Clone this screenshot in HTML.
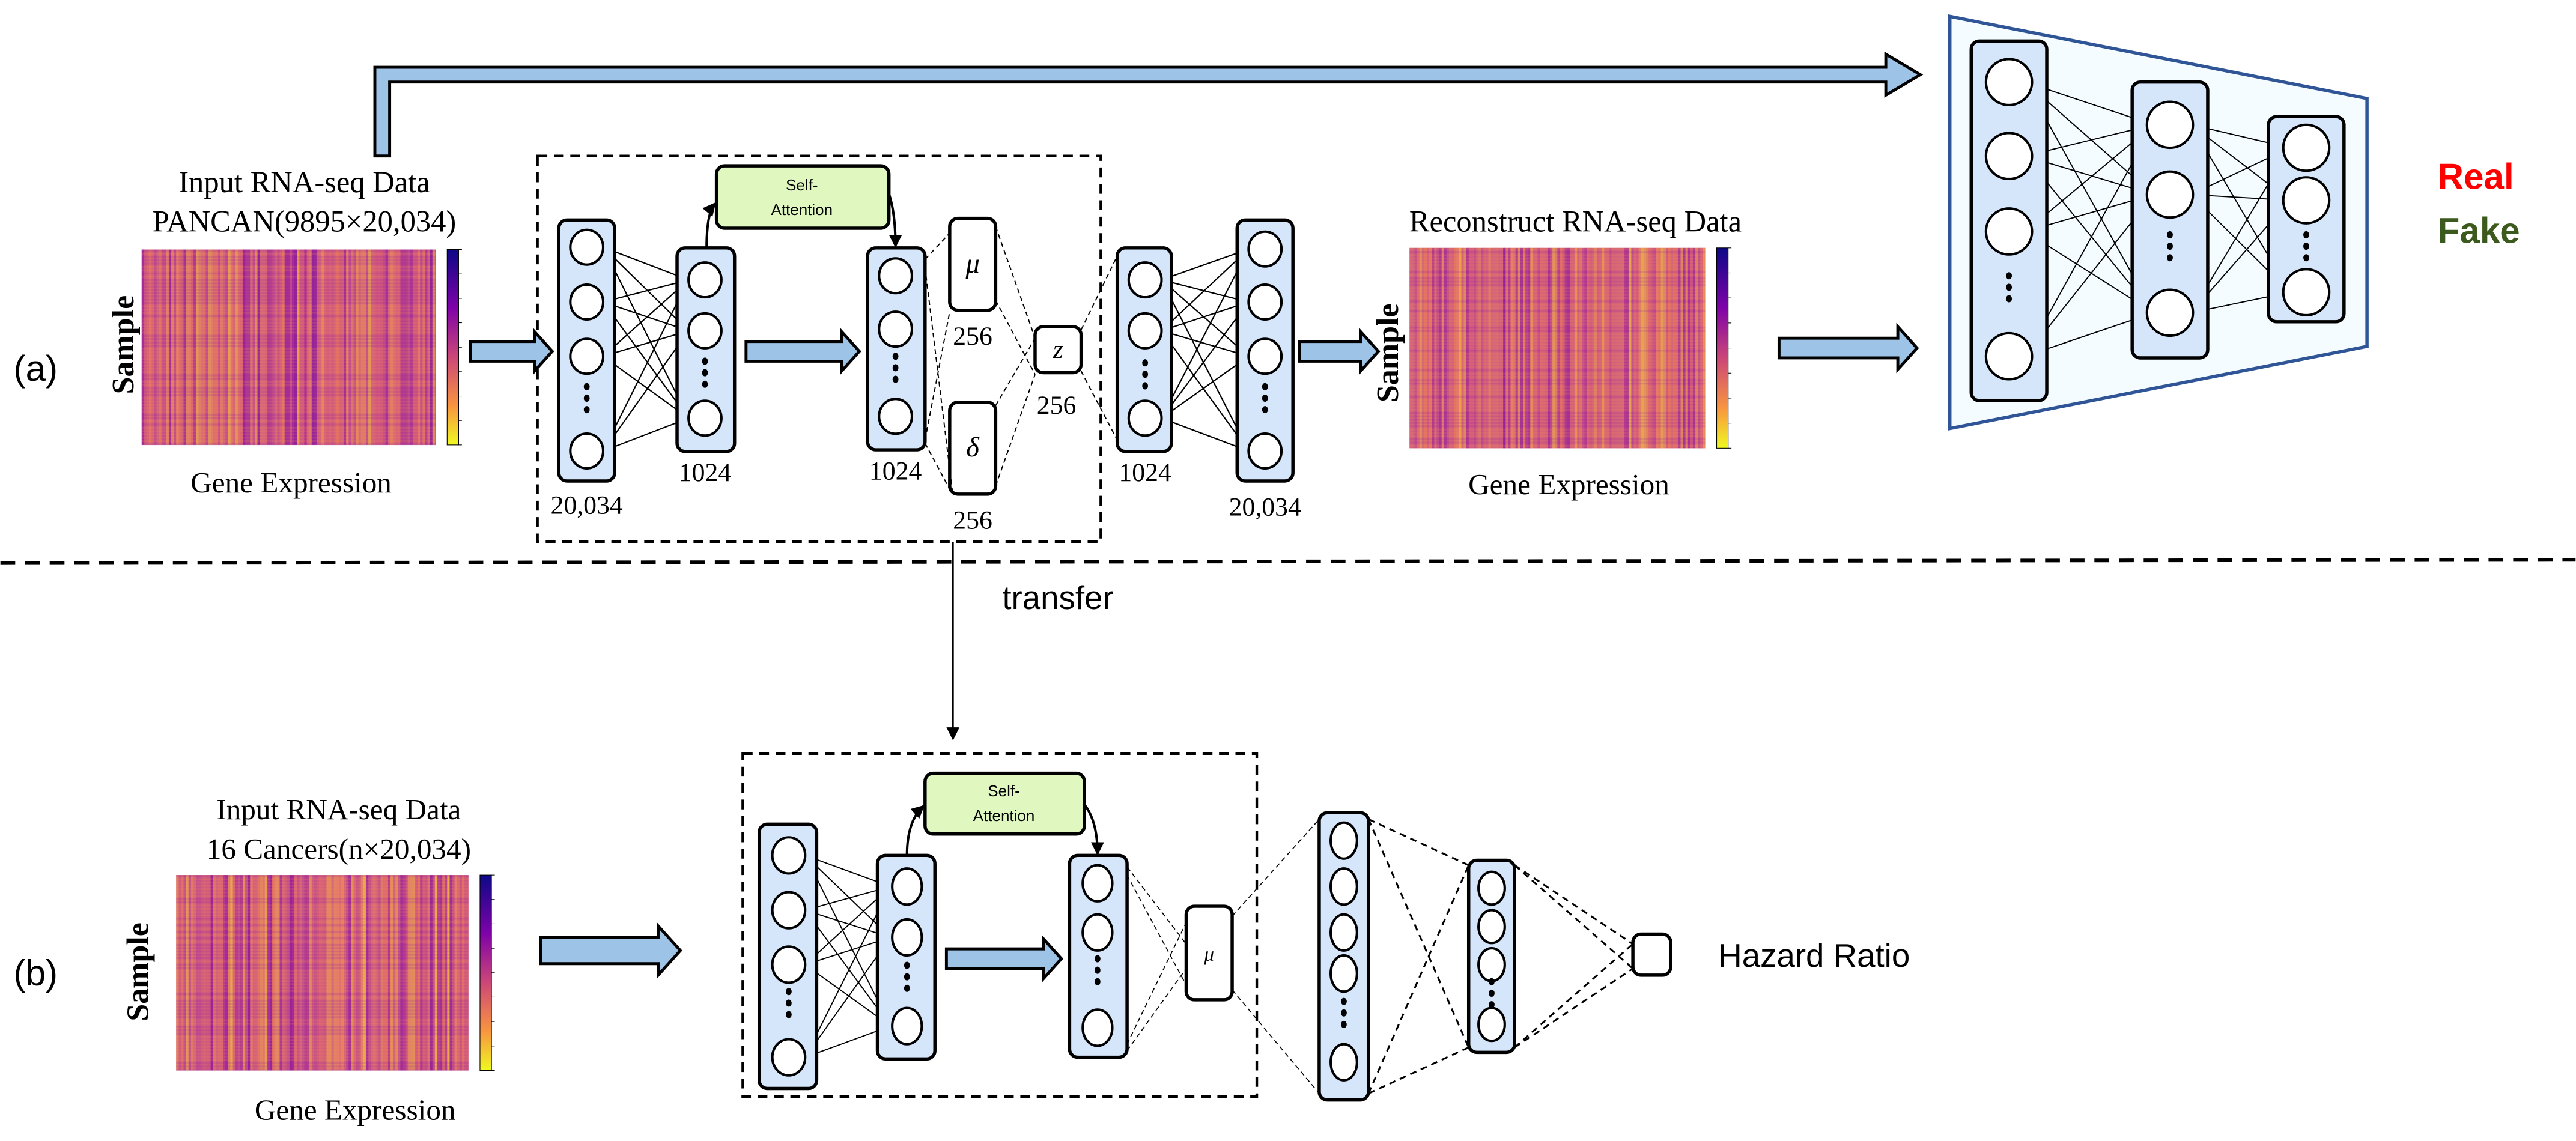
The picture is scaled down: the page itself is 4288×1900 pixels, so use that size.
<!DOCTYPE html>
<html><head><meta charset="utf-8">
<style>
html,body{margin:0;padding:0;background:#fff;}
svg{display:block;}
.serif{font-family:"Liberation Serif",serif;}
.sans{font-family:"Liberation Sans",sans-serif;}
</style></head>
<body>
<svg id="s" xmlns="http://www.w3.org/2000/svg" width="4288" height="1900" viewBox="0 0 1568 695">
<defs>
<linearGradient id="cb" x1="0" y1="0" x2="0" y2="1">
<stop offset="0" stop-color="#0d0887"/><stop offset="0.3" stop-color="#7e03a8"/><stop offset="0.55" stop-color="#cc4778"/><stop offset="0.8" stop-color="#f89540"/><stop offset="1" stop-color="#f0f921"/>
</linearGradient>
<marker id="ah" markerWidth="8" markerHeight="8" refX="7" refY="4" orient="auto" markerUnits="userSpaceOnUse"><path d="M0,0 L8,4 L0,8 z" fill="#000"/></marker>
</defs>
<g id="g"></g>
<g class="serif" fill="#000" text-anchor="middle">
<text x="185" y="117" font-size="18.5">Input RNA-seq Data</text>
<text x="185" y="141" font-size="18.5">PANCAN(9895×20,034)</text>
<text x="177" y="300" font-size="18">Gene Expression</text>
<text transform="translate(81,210) rotate(-90)" font-size="19" font-weight="bold">Sample</text>
<text x="357" y="313" font-size="16">20,034</text>
<text x="429" y="293" font-size="16">1024</text>
<text x="545" y="292" font-size="16">1024</text>
<text x="697" y="293" font-size="16">1024</text>
<text x="770" y="314" font-size="16">20,034</text>
<text x="592" y="210" font-size="16">256</text>
<text x="592" y="322" font-size="16">256</text>
<text x="643" y="252" font-size="16">256</text>
<text x="592" y="166" font-size="17" font-style="italic">μ</text>
<text x="592" y="278" font-size="17" font-style="italic">δ</text>
<text x="644" y="218" font-size="16" font-style="italic">z</text>
<text x="959" y="141" font-size="18.5">Reconstruct RNA-seq Data</text>
<text x="955" y="301" font-size="18">Gene Expression</text>
<text transform="translate(851,215) rotate(-90)" font-size="19" font-weight="bold">Sample</text>
<text x="206" y="499" font-size="18">Input RNA-seq Data</text>
<text x="206" y="523" font-size="18">16 Cancers(n×20,034)</text>
<text x="216" y="682" font-size="18">Gene Expression</text>
<text transform="translate(90,592) rotate(-90)" font-size="19" font-weight="bold">Sample</text>
<text x="736" y="585" font-size="12" font-style="italic">μ</text>
</g>
<g class="sans" fill="#000">
<text x="8" y="232" font-size="22">(a)</text>
<text x="8" y="600" font-size="22">(b)</text>
<text x="610" y="371" font-size="20">transfer</text>
<text x="1046" y="589" font-size="20">Hazard Ratio</text>
<text x="1484" y="115" font-size="22" font-weight="bold" fill="#ff0000">Real</text>
<text x="1484" y="148" font-size="22" font-weight="bold" fill="#3d5a1e">Fake</text>
<text x="488" y="116" font-size="9.5" text-anchor="middle">Self-</text>
<text x="488" y="131" font-size="9.5" text-anchor="middle">Attention</text>
<text x="611" y="485" font-size="9.5" text-anchor="middle">Self-</text>
<text x="611" y="500" font-size="9.5" text-anchor="middle">Attention</text>
</g>
</svg>
<script>
var NS="http://www.w3.org/2000/svg",G=document.getElementById('g');
function el(t,a){var e=document.createElementNS(NS,t);for(var k in a)e.setAttribute(k,a[k]);G.appendChild(e);return e;}
var seed=7;function rnd(){seed=(seed*16807)%2147483647;return seed/2147483647;}
function heat(x,y,w,h,cbx){
 el('rect',{x:x,y:y,width:w,height:h,fill:'#cc5a80'});
 var cols=['#a0209c','#8a12a0','#d8587a','#ee7a5a','#f0a050','#f4c040','#c04890','#e06870','#d86a78','#f08a60'];
 var n=Math.floor(w/1.5);
 for(var i=0;i<n;i++){var c=cols[Math.floor(rnd()*cols.length)];el('rect',{x:x+i*1.5,y:y,width:1.6,height:h,fill:c,opacity:0.4+rnd()*0.4});}
 for(var j=0;j<h;j+=2){el('rect',{x:x,y:y+j,width:w,height:1.2,fill:rnd()<0.5?'#9020a0':'#f09050',opacity:0.18});}
 el('rect',{x:cbx,y:y,width:7,height:h,fill:'url(#cb)',stroke:'#000','stroke-width':0.4});
 for(var k=0;k<9;k++)el('line',{x1:cbx+7,y1:y+k*h/8,x2:cbx+9,y2:y+k*h/8,stroke:'#000','stroke-width':0.4});
}
function arrow(x1,x2,yc,hh,sh){
 el('path',{d:'M'+x1+','+(yc-sh)+' L'+(x2-hh*0.9)+','+(yc-sh)+' L'+(x2-hh*0.9)+','+(yc-hh)+' L'+x2+','+yc+' L'+(x2-hh*0.9)+','+(yc+hh)+' L'+(x2-hh*0.9)+','+(yc+sh)+' L'+x1+','+(yc+sh)+' z',fill:'#9dc3e6',stroke:'#000','stroke-width':1.8});
}
function col(x1,x2,y1,y2,cx,ys,dy,rx,ry,sw){
 el('rect',{x:x1,y:y1,width:x2-x1,height:y2-y1,rx:5,fill:'#d6e6fa',stroke:'#000','stroke-width':sw||2});
 ys.forEach(function(y){el('ellipse',{cx:cx,cy:y,rx:rx,ry:ry,fill:'#fff',stroke:'#000','stroke-width':1.5});});
 if(dy!==null){[-7,0,7].forEach(function(d){el('ellipse',{cx:cx,cy:dy+d,rx:1.8,ry:2.2,fill:'#000'});});}
}
function conn(ax,ays,bx,bys,sw,dash){
 ays.forEach(function(a){bys.forEach(function(b){var o={x1:ax,y1:a,x2:bx,y2:b,stroke:'#000','stroke-width':sw||0.8};if(dash)o['stroke-dasharray']=dash;el('line',o);});});
}
function ln(x1,y1,x2,y2,sw,dash){var o={x1:x1,y1:y1,x2:x2,y2:y2,stroke:'#000','stroke-width':sw||0.7};if(dash)o['stroke-dasharray']=dash;el('line',o);}
function box(x,y,w,h,fill,sw){el('rect',{x:x,y:y,width:w,height:h,rx:5,fill:fill,stroke:'#000','stroke-width':sw||2});}

el('path',{d:'M228,95 L228,41 L1148,41 L1148,33 L1169,45.5 L1148,58 L1148,50 L237,50 L237,95 z',fill:'#9dc3e6',stroke:'#000','stroke-width':1.8});
heat(86,152,179,119,272);
heat(858,151,180,122,1045);
heat(107,533,178,119,292);
el('rect',{x:327,y:95,width:343,height:235,fill:'none',stroke:'#000','stroke-width':1.6,'stroke-dasharray':'6,4'});
arrow(286,336,214,12,6);
arrow(454,523,214,12,6);
arrow(791,839,214,12,6);
arrow(1083,1167,212,13,6);
var c1=[150.6,184,217,274.7],c2=[170.5,201.5,254.7];
conn(367,c1,419,c2,0.8);
var c3=[168,200.5,253.6],c4=[170.5,201.5,254.7],c5=[151.7,184,217,274.7];
conn(707,c4,760,c5,0.8);
col(340,374,134,293,357,c1,242.5,10,10.6);
col(412,447,151,275,429,c2,227,10,10.6);
col(528,563,151,274,545,c3,224,10,10.6);
col(680,713,151,275,697,c4,228,10,10.6);
col(753,787,134,293,770,c5,242.5,10,10.6);
box(436,101,105,38,'#e0f8c0',2);
el('path',{d:'M430,151 Q430,130 435,124',fill:'none',stroke:'#000','stroke-width':1.5,'marker-end':'url(#ah)'});
el('path',{d:'M541,118 Q545,130 545,150',fill:'none',stroke:'#000','stroke-width':1.5,'marker-end':'url(#ah)'});
box(578,133,28,56,'#fff',2);
box(578,245,28,56,'#fff',2);
box(630,199,28,28,'#fff',2);
var d='3,2';
ln(563,158,578,142,0.7,d);ln(563,163,580,302,0.7,d);ln(563,268,578,190,0.7,d);ln(563,270,578,298,0.7,d);
ln(606,138,630,206,0.7,d);ln(606,183,630,228,0.7,d);ln(606,247,630,206,0.7,d);ln(606,296,630,228,0.7,d);
ln(658,201,680,156,0.7,d);ln(658,226,680,268,0.7,d);
el('path',{d:'M1187,10 L1441,60 L1441,211 L1187,261 z',fill:'#f5fcff',stroke:'#2f5597','stroke-width':2});
var e1=[50,95,141,217],e2=[76,118.5,190.5],e3=[90,122,178];
conn(1233,e1,1311,e2,0.7);conn(1334,e2,1394,e3,0.7);
col(1200,1246,25,244,1223,e1,175,14,14);
col(1298,1344,50,218,1321,e2,150,14,14);
col(1381,1427,71,196,1404,e3,150,14,14);
ln(0,343,1568,341,2.2,'9,6');
el('line',{x1:580,y1:330,x2:580,y2:450,stroke:'#000','stroke-width':1,'marker-end':'url(#ah)'});
arrow(329,414,579,15,8);
el('rect',{x:452,y:459,width:313,height:209,fill:'none',stroke:'#000','stroke-width':1.6,'stroke-dasharray':'6,4'});
var b1=[521,554.4,587.6,644],b2=[540,571,625],b3=[538,568,626];
conn(490,b1,542,b2,0.7);
col(462,497,502,663,480,b1,611,10,11);
col(534,569,521,645,552,b2,595,9,11);
box(563,471,97,37,'#e0f8c0',2);
el('path',{d:'M552,521 Q552,500 562,491',fill:'none',stroke:'#000','stroke-width':1.5,'marker-end':'url(#ah)'});
el('path',{d:'M660,490 Q668,500 668,520',fill:'none',stroke:'#000','stroke-width':1.5,'marker-end':'url(#ah)'});
arrow(576,646,584,12,6);
col(651,686,521,644,668,b3,591,9,11);
box(722,552,28,57,'#fff',2);
ln(686,528,722,575,0.6,d);ln(686,533,722,600,0.6,d);ln(686,636,722,562,0.6,d);ln(686,640,722,590,0.6,d);
ln(750,558,803,499,0.6,d);ln(750,603,803,666,0.6,d);
var b4=[512,540,568,593,647],b5=[541,564.4,587.6,624];
ln(833,499,894,527,1.1,'4,3');ln(833,499,894,638,1.1,'4,3');ln(833,666,894,527,1.1,'4,3');ln(833,666,894,638,1.1,'4,3');
ln(922,527,994,575,1.1,'4,3');ln(922,527,994,590,1.1,'4,3');ln(922,638,994,575,1.1,'4,3');ln(922,638,994,590,1.1,'4,3');
col(803,833,495,670,818,b4,617,8,11);
col(894,922,524,641,908,b5,605,8,10);
box(994,569,23,25,'#fff',2);
</script>
</body></html>
